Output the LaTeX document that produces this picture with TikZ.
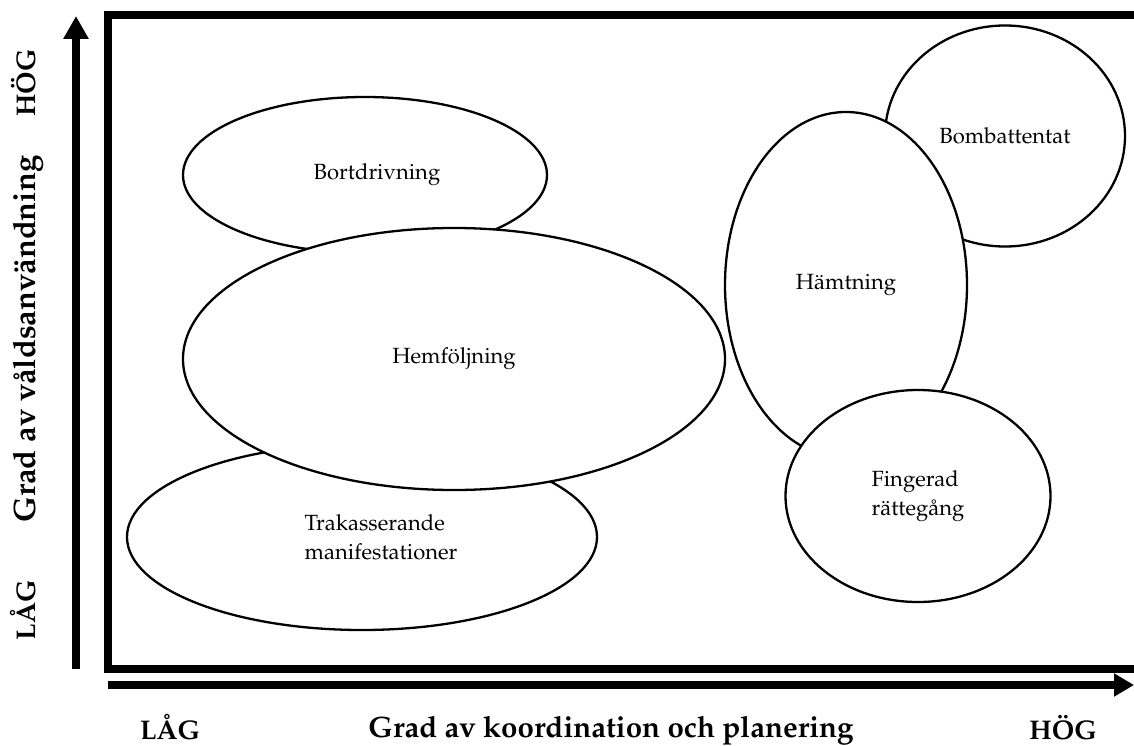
\documentclass[tikz,border=0pt]{standalone}
\usepackage[T1]{fontenc}
\usepackage{mathpazo}
\usetikzlibrary{shapes.geometric,arrows.meta}

\begin{document}
\begin{tikzpicture}[x=1pt, y=-1pt,
	blob/.style ={ellipse, draw, fill=white, line width=2.3pt, inner sep=0pt},
	lbl/.style ={align=left, font=\fontsize{22}{29}\selectfont},
	axis/.style ={font=\fontsize{27}{32}\selectfont\bfseries, anchor=base}]
	\useasboundingbox (0,0) rectangle (1134,746);
	% frame and axes
	\draw[line width=8pt] (1140,15) -- (108,15) -- (108,669) -- (1140,669);
	\coordinate (ybot) at (76,669);
	\coordinate (ytop) at (76,16);
	\coordinate (xleft) at (108,685);
	\coordinate (xright) at (1134,685);
	\draw[line width=8pt, -{Triangle[width=24pt,length=23pt]}] (ybot) -- (ytop);
	\draw[line width=8pt, -{Triangle[width=22pt,length=20pt]}] (xleft) -- (xright);
	
	\node[axis, rotate=90] (yhigh) at (35,83) {HÖG};
	\node[axis, rotate=90, font=\fontsize{31}{36}\selectfont\bfseries] (ylabel) at (35,339) {Grad av våldsanvändning};
	\node[axis, rotate=90] (ylow) at (35,610) {LÅG};
	\node[axis] (xlow) at (170,739) {LÅG};
	\node[axis, font=\fontsize{29.5}{34}\selectfont\bfseries] (xlabel) at (611,737) {Grad av koordination och planering};
	\node[axis] (xhigh) at (1063,739) {HÖG};
	
	% left group
	\node[blob, minimum width=364pt, minimum height=156pt] (bort) at (365,175) {};
	\node[lbl] (bortT) at ([xshift=12pt]bort.center) {Bortdrivning};
	\node[blob, minimum width=470pt, minimum height=186pt] (trak) at (362,537) {};
	\node[lbl] (trakT) at ([xshift=19pt]trak.center) {Trakasserande\\manifestationer};
	\node[blob, minimum width=542pt, minimum height=262pt, lbl] (hem) at (454,359) {Hemföljning};
	
	% right group
	\node[blob, minimum width=240pt, minimum height=221pt, lbl] (bomb) at (1005,136) {Bombattentat};
	\node[blob, minimum width=242pt, minimum height=346pt, lbl] (hamt) at (846,285) {Hämtning};
	\node[blob, minimum width=265pt, minimum height=212pt, lbl] (fing) at (918,496) {Fingerad\\rättegång};
\end{tikzpicture}
\end{document}
